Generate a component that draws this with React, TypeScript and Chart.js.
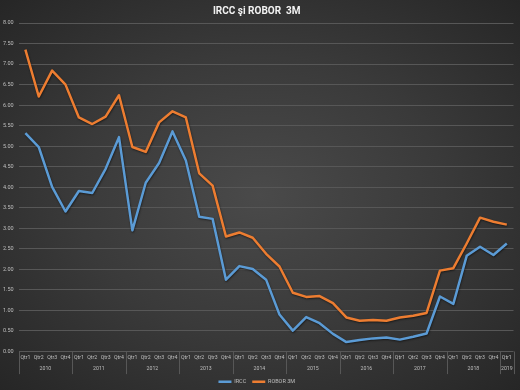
import React, { useEffect, useRef } from 'react';
import { Chart, registerables } from 'chart.js';

Chart.register(...registerables);

const quarterLabels = [
  'Qtr1', 'Qtr2', 'Qtr3', 'Qtr4',
  'Qtr1', 'Qtr2', 'Qtr3', 'Qtr4',
  'Qtr1', 'Qtr2', 'Qtr3', 'Qtr4',
  'Qtr1', 'Qtr2', 'Qtr3', 'Qtr4',
  'Qtr1', 'Qtr2', 'Qtr3', 'Qtr4',
  'Qtr1', 'Qtr2', 'Qtr3', 'Qtr4',
  'Qtr1', 'Qtr2', 'Qtr3', 'Qtr4',
  'Qtr1', 'Qtr2', 'Qtr3', 'Qtr4',
  'Qtr1', 'Qtr2', 'Qtr3', 'Qtr4',
  'Qtr1',
];

const yearLabels = ['2010', '2011', '2012', '2013', '2014', '2015', '2016', '2017', '2018', '2019'];
const quartersPerYear = [4, 4, 4, 4, 4, 4, 4, 4, 4, 1];

const irccValues = [
  5.32, 4.98, 4.01, 3.41, 3.91, 3.86, 4.45, 5.22, 2.95, 4.11, 4.59, 5.36,
  4.65, 3.28, 3.23, 1.75, 2.08, 2.01, 1.75, 0.9, 0.51, 0.84, 0.69, 0.43,
  0.23, 0.28, 0.32, 0.34, 0.29, 0.36, 0.44, 1.34, 1.16, 2.33, 2.55, 2.35, 2.63,
];

const roborValues = [
  7.35, 6.21, 6.84, 6.5, 5.7, 5.54, 5.72, 6.24, 4.98, 4.86, 5.58, 5.85,
  5.7, 4.34, 4.04, 2.8, 2.9, 2.77, 2.38, 2.07, 1.43, 1.33, 1.35, 1.18,
  0.83, 0.75, 0.77, 0.75, 0.83, 0.87, 0.94, 1.97, 2.03, 2.63, 3.26, 3.16, 3.09,
];

const FONT = 'Roboto';
const GRID = '#575757';
const TICK = '#bfbfbf';

export default function App() {
  const ref = useRef<HTMLCanvasElement | null>(null);

  useEffect(() => {
    if (!ref.current) return;

    const boundaries: number[] = [];
    const centers: { v: number; label: string }[] = [];
    let start = 0;
    quartersPerYear.forEach((n, i) => {
      boundaries.push(start - 0.5);
      centers.push({ v: start + (n - 1) / 2, label: yearLabels[i] });
      start += n;
    });
    boundaries.push(start - 0.5);

    const yearDividers = {
      id: 'yearDividers',
      afterDraw(chart: any) {
        const yrs = chart.scales.years;
        const ctx = chart.ctx;
        ctx.save();
        ctx.strokeStyle = GRID;
        ctx.lineWidth = 1;
        boundaries.forEach((b) => {
          const px = Math.round(yrs.getPixelForValue(b)) + 0.5;
          ctx.beginPath();
          ctx.moveTo(px, chart.chartArea.bottom);
          ctx.lineTo(px, yrs.bottom + 1);
          ctx.stroke();
        });
        ctx.restore();
      },
    };

    const lineShadow = {
      id: 'lineShadow',
      beforeDatasetsDraw(chart: any) {
        const ctx = chart.ctx;
        ctx.save();
        ctx.shadowColor = 'rgba(0,0,0,0.55)';
        ctx.shadowBlur = 2;
        ctx.shadowOffsetX = 0.5;
        ctx.shadowOffsetY = 1;
      },
      afterDatasetsDraw(chart: any) {
        chart.ctx.restore();
      },
    };

    const chart = new Chart(ref.current, {
      type: 'line',
      data: {
        labels: quarterLabels,
        datasets: [
          {
            label: 'IRCC',
            data: irccValues,
            borderColor: '#5b9bd5',
            backgroundColor: '#5b9bd5',
            borderWidth: 2.5,
            pointRadius: 0,
            tension: 0,
            borderJoinStyle: 'round',
          },
          {
            label: 'ROBOR 3M',
            data: roborValues,
            borderColor: '#ed7d31',
            backgroundColor: '#ed7d31',
            borderWidth: 2.5,
            pointRadius: 0,
            tension: 0,
            borderJoinStyle: 'round',
          },
        ],
      },
      plugins: [yearDividers, lineShadow],
      options: {
        responsive: false,
        animation: false,
        layout: { padding: { left: 0, right: 6.5, top: 0, bottom: -4.6 } },
        plugins: {
          title: {
            display: true,
            text: 'IRCC şi ROBOR  3M',
            color: '#f2f2f2',
            font: { family: FONT, size: 10, weight: 'bold', lineHeight: 1.2 },
            padding: { top: 5, bottom: 6 },
          },
          legend: {
            display: true,
            position: 'bottom',
            labels: {
              color: TICK,
              font: { family: FONT, size: 5.5 },
              usePointStyle: true,
              pointStyle: 'line',
              pointStyleWidth: 13,
              padding: 6,
            },
          },
          tooltip: { enabled: false },
        },
        scales: {
          y: {
            min: 0,
            max: 8,
            afterFit: (s: any) => {
              s.width = 18.7;
            },
            ticks: {
              stepSize: 0.5,
              color: TICK,
              font: { family: FONT, size: 5.5 },
              padding: 5,
              callback: (v: any) => Number(v).toFixed(2),
            },
            grid: { color: GRID, drawTicks: false, lineWidth: 1 },
            border: { display: false },
          },
          x: {
            type: 'category',
            offset: true,
            weight: 0,
            ticks: {
              color: TICK,
              font: { family: FONT, size: 5.2 },
              autoSkip: false,
              maxRotation: 0,
              minRotation: 0,
              padding: 2.85,
            },
            grid: { display: false, drawTicks: false },
            border: { display: false },
          },
          years: {
            type: 'linear',
            position: 'bottom',
            weight: 1,
            min: -0.5,
            max: quarterLabels.length - 0.5,
            bounds: 'data',
            afterBuildTicks: (s: any) => {
              s.ticks = centers.map((c) => ({ value: c.v }));
            },
            ticks: {
              color: TICK,
              font: { family: FONT, size: 5.2 },
              autoSkip: false,
              maxRotation: 0,
              minRotation: 0,
              padding: 1.7,
              callback: (v: any) => {
                const c = centers.find((cc) => Math.abs(cc.v - Number(v)) < 1e-6);
                return c ? c.label : '';
              },
            },
            grid: { display: false, drawTicks: false },
            border: { display: false },
          },
        },
      } as any,
    });

    return () => chart.destroy();
  }, []);

  return (
    <div
      style={{
        position: 'fixed',
        left: 0,
        top: 0,
        width: 520,
        height: 390,
        background:
          'radial-gradient(ellipse at 50% 50%, #4a4a4a 0%, #3a3a3a 50%, #262626 100%)',
      }}
    >
      <canvas ref={ref} width={520} height={390} style={{ display: 'block' }} />
    </div>
  );
}
